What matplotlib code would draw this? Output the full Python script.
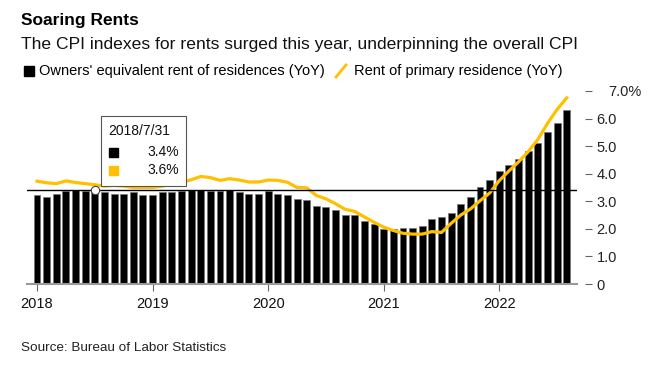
import numpy as np
import matplotlib.pyplot as plt
from matplotlib.transforms import ScaledTranslation
from matplotlib.patches import Rectangle

plt.rcParams['font.family'] = ['Liberation Sans', 'DejaVu Sans']

# monthly, Jan 2018 - Aug 2022 (YoY %)
oer = [3.22, 3.14, 3.26, 3.37, 3.40, 3.37, 3.40, 3.32, 3.26, 3.26, 3.32, 3.22,
       3.22, 3.32, 3.32, 3.37, 3.40, 3.40, 3.38, 3.38, 3.40, 3.32, 3.25, 3.28,
       3.37, 3.28, 3.21, 3.07, 3.04, 2.83, 2.79, 2.69, 2.49, 2.49, 2.27, 2.16,
       1.99, 2.00, 2.02, 2.02, 2.10, 2.34, 2.42, 2.56, 2.90, 3.14, 3.53, 3.79,
       4.11, 4.30, 4.54, 4.81, 5.12, 5.50, 5.85, 6.30]
rent = [3.73, 3.67, 3.64, 3.74, 3.68, 3.64, 3.60, 3.55, 3.58, 3.55, 3.50, 3.50,
        3.50, 3.55, 3.62, 3.68, 3.78, 3.90, 3.86, 3.76, 3.82, 3.77, 3.70, 3.70,
        3.77, 3.76, 3.69, 3.50, 3.49, 3.21, 3.09, 2.91, 2.71, 2.63, 2.43, 2.24,
        2.06, 1.94, 1.84, 1.81, 1.81, 1.90, 1.87, 2.20, 2.50, 2.72, 3.02, 3.30,
        3.75, 4.10, 4.43, 4.80, 5.24, 5.82, 6.33, 6.75]
years = ['2018', '2019', '2020', '2021', '2022']
yticks = [0, 1, 2, 3, 4, 5, 6, 7]
ylabels = ['0', '1.0', '2.0', '3.0', '4.0', '5.0', '6.0', '7.0%']
hover_idx = 6
hover_date = '2018/7/31'

YELLOW = '#ffc000'
W, H = 669, 373

fig = plt.figure(figsize=(W / 100, H / 100), dpi=100)
ax = fig.add_axes([27 / W, 1 - 284 / H, 550 / W, 193 / H])

x = np.arange(len(oer))
ax.bar(x, oer, width=0.72, color='black', edgecolor='#777777', linewidth=0.5, zorder=2)
ax.plot(x, rent, color=YELLOW, lw=2.3, zorder=3, solid_joinstyle='round')

# hover crosshair
ax.axhline(oer[hover_idx], color='black', lw=1, zorder=4)
ax.plot(hover_idx, oer[hover_idx], 'o', ms=6, mfc='white', mec='#444444', mew=0.8, zorder=5)

ax.set_xlim(-1.04, 56.07)
ax.set_ylim(0, 7)

for s in ['top', 'left']:
    ax.spines[s].set_visible(False)
ax.spines['right'].set_visible(False)
ax.spines['right'].set_position(('outward', 6))
ax.spines['bottom'].set_color('#999999')
ax.spines['bottom'].set_linewidth(1.5)
ax.spines['bottom'].set_zorder(6)

ax.yaxis.tick_right()
ax.set_yticks(yticks)
ax.set_yticklabels(ylabels)
ax.tick_params(axis='y', length=5, width=0.8, color='#666666', pad=3,
               labelsize=10.5, labelcolor='#222222')
for lbl in ax.get_yticklabels():
    lbl.set_horizontalalignment('left')
ax.get_yticklabels()[-1].set_transform(
    ax.get_yticklabels()[-1].get_transform() + ScaledTranslation(0.12, 0, fig.dpi_scale_trans))

ax.set_xticks(np.arange(len(years)) * 12)
ax.set_xticklabels(years)
ax.tick_params(axis='x', length=5, width=0.8, color='#666666', pad=4,
               labelsize=10.5, labelcolor='#111111')

# tooltip
def px(xp, yp):
    return xp / W, 1 - yp / H

bx, by = px(101, 186)
tip = Rectangle((bx, by), 85 / W, 70 / H, transform=fig.transFigure,
                facecolor='white', edgecolor='#555555', lw=0.8, zorder=10)
fig.patches.append(tip)
fig.text(*px(108, 131), hover_date, fontsize=10, va='center', color='#111111', zorder=11)
fig.patches.append(Rectangle(px(109, 157), 9 / W, 9 / H, transform=fig.transFigure,
                             color='black', zorder=11))
fig.patches.append(Rectangle(px(109, 175), 9 / W, 9 / H, transform=fig.transFigure,
                             color=YELLOW, zorder=11))
fig.text(*px(179, 152), f'{oer[hover_idx]:.1f}%', fontsize=10, va='center', ha='right',
         color='#111111', zorder=11)
fig.text(*px(179, 170), f'{rent[hover_idx]:.1f}%', fontsize=10, va='center', ha='right',
         color='#111111', zorder=11)

# titles and legend
fig.text(*px(21, 20), 'Soaring Rents', fontsize=12.5, fontweight='bold', va='center')
fig.text(*px(21, 45), 'The CPI indexes for rents surged this year, underpinning the overall CPI',
         fontsize=12.6, va='center', color='#111111')
fig.patches.append(Rectangle(px(24, 76), 10 / W, 10 / H, transform=fig.transFigure, color='black'))
fig.text(*px(39, 71), "Owners' equivalent rent of residences (YoY)", fontsize=10.5, va='center')
fig.lines.append(plt.Line2D([336 / W, 346 / W], [1 - 77 / H, 1 - 65 / H],
                            transform=fig.transFigure, color=YELLOW, lw=2))
fig.text(*px(354, 71), 'Rent of primary residence (YoY)', fontsize=10.5, va='center')

fig.text(*px(21, 348), 'Source: Bureau of Labor Statistics', fontsize=9.7, va='center', color='#222222')

fig.savefig('out.png', dpi=100)
